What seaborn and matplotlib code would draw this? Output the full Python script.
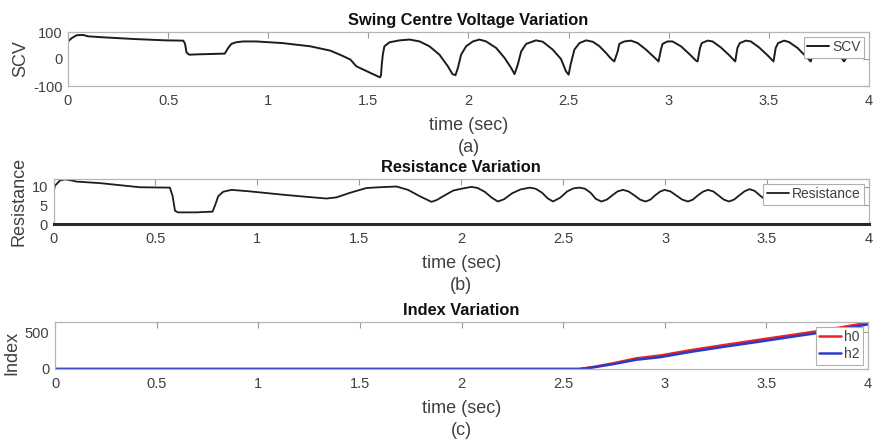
import matplotlib
matplotlib.use("Agg")
import matplotlib.pyplot as plt
import pandas as pd
import seaborn as sns

# ---------------- data ----------------
x_ticks = [0, 0.5, 1, 1.5, 2, 2.5, 3, 3.5, 4]
x_tick_labels = ["0", "0.5", "1", "1.5", "2", "2.5", "3", "3.5", "4"]

scv_t = [0, 0.018, 0.043, 0.076, 0.10, 0.16, 0.33, 0.49, 0.575, 0.584, 0.592, 0.605,
         0.64, 0.783, 0.80, 0.816, 0.84, 0.874, 0.94, 1.07, 1.21, 1.31, 1.37, 1.41,
         1.44, 1.50, 1.558,
         1.563, 1.567, 1.572, 1.58, 1.606, 1.656, 1.706, 1.756, 1.805, 1.855, 1.897, 1.92, 1.935,
         1.947, 1.963, 1.988, 2.022, 2.055, 2.088, 2.138, 2.18, 2.213, 2.23,
         2.246, 2.263, 2.288, 2.337, 2.371, 2.42, 2.462, 2.487, 2.50,
         2.51, 2.529, 2.554, 2.587, 2.62, 2.653, 2.687, 2.712, 2.728,
         2.745, 2.753, 2.778, 2.811, 2.845, 2.886, 2.928, 2.949,
         2.961, 2.969, 2.994, 3.019, 3.061, 3.102, 3.136, 3.144,
         3.156, 3.165, 3.194, 3.219, 3.26, 3.302, 3.332,
         3.343, 3.355, 3.385, 3.41, 3.451, 3.493, 3.523,
         3.534, 3.546, 3.576, 3.60, 3.643, 3.684, 3.709,
         3.721, 3.73, 3.755, 3.78, 3.82, 3.855, 3.875, 3.885, 3.893]
scv_v = [65, 77, 88, 89, 84, 81, 74, 69, 68, 58, 24, 16,
         17, 20, 41, 56, 62, 65, 65, 59, 47, 31, 12, -2,
         -27, -48, -68,
         -60, -20, 16, 47, 62, 69, 72, 65, 47, 16, -27, -56, -60,
         -33, 16, 47, 65, 72, 65, 41, 4, -33, -56,
         -21, 28, 56, 69, 64, 35, 0, -46, -58,
         -20, 35, 59, 69, 64, 48, 22, 1, -9,
         28, 56, 65, 68, 59, 35, 6, -9,
         35, 56, 65, 65, 47, 19, -6, -9,
         41, 59, 68, 65, 43, 14, -9,
         41, 59, 68, 65, 43, 14, -9,
         41, 59, 68, 63, 41, 10, -9,
         22, 55, 66, 64, 40, 12, -9, 2, 15]

res_t = [0, 0.007, 0.032, 0.056, 0.08, 0.114, 0.228, 0.424, 0.571, 0.584, 0.596, 0.612,
         0.70, 0.78, 0.792, 0.808, 0.832, 0.873, 0.963, 1.127, 1.25, 1.339, 1.388, 1.453,
         1.535, 1.60, 1.682, 1.739, 1.797, 1.854, 1.88, 1.911, 1.96, 2.0, 2.05,
         2.08, 2.115, 2.15, 2.18, 2.21, 2.25, 2.29, 2.336,
         2.365, 2.395, 2.425, 2.45, 2.485, 2.52, 2.55, 2.58,
         2.607, 2.635, 2.66, 2.687, 2.714, 2.74, 2.767, 2.793,
         2.82, 2.85, 2.877, 2.904, 2.928, 2.95, 2.974, 2.997,
         3.026, 3.055, 3.084, 3.112, 3.136, 3.16, 3.185, 3.21,
         3.236, 3.262, 3.288, 3.313, 3.338, 3.363, 3.389, 3.414,
         3.44, 3.465, 3.496]
res_v = [8.4, 10.2, 11.6, 11.9, 11.7, 11.3, 10.9, 9.8, 9.7, 7.5, 3.5, 3.1,
         3.1, 3.3, 4.9, 7.4, 8.6, 9.1, 8.7, 7.8, 7.2, 6.8, 7.1, 8.3,
         9.6, 9.8, 10.0, 9.1, 7.4, 5.9, 6.4, 7.4, 8.9, 9.4, 9.9,
         9.6, 8.6, 7.0, 6.0, 6.6, 8.2, 9.2, 9.7,
         9.4, 8.4, 6.8, 6.0, 7.0, 8.7, 9.5, 9.7,
         9.4, 8.3, 6.7, 6.0, 6.5, 7.6, 8.7, 9.1,
         8.7, 7.6, 6.5, 6.0, 6.5, 7.6, 8.6, 9.1,
         8.7, 7.6, 6.5, 6.0, 6.5, 7.6, 8.6, 9.1,
         8.7, 7.6, 6.5, 6.0, 6.5, 7.6, 8.7, 9.3,
         8.8, 7.6, 6.3]

idx_t = [0, 2.58, 2.65, 2.75, 2.86, 2.98, 3.14, 3.30, 3.47, 3.63, 3.80, 3.91, 4.0]
h0_v = [0, 0, 28, 80, 145, 185, 262, 330, 400, 465, 535, 588, 632]
h2_v = [0, 0, 23, 68, 126, 162, 239, 306, 374, 441, 509, 563, 608]

# ---------------- styling ----------------
sns.set_theme(style="white")
plt.rcParams["font.family"] = ["Liberation Sans", "DejaVu Sans"]
plt.rcParams["axes.unicode_minus"] = False

TXT = "#404040"
SPINE = "#b5b5b5"
TICK = "#9a9a9a"

W, H = 876, 441
fig = plt.figure(figsize=(W / 100, H / 100), dpi=100)
fig.patch.set_facecolor("white")


def box(l, r, t, b):
    return [l / W, 1 - b / H, (r - l) / W, (b - t) / H]


ax1 = fig.add_axes(box(68, 869, 32, 86))
ax2 = fig.add_axes(box(53.5, 869, 179, 224))
ax3 = fig.add_axes(box(55, 868, 322, 369))

df_scv = pd.DataFrame({"t": scv_t, "SCV": scv_v})
df_res = pd.DataFrame({"t": res_t, "Resistance": res_v})
df_idx = pd.DataFrame({
    "t": idx_t + idx_t,
    "Index": h0_v + h2_v,
    "series": ["h0"] * len(idx_t) + ["h2"] * len(idx_t),
})

sns.lineplot(data=df_scv, x="t", y="SCV", ax=ax1, color="#1c1c1c", lw=1.4,
             label="SCV", sort=False, estimator=None)
sns.lineplot(data=df_res, x="t", y="Resistance", ax=ax2, color="#1c1c1c", lw=1.3,
             label="Resistance", sort=False, estimator=None)
sns.lineplot(data=df_idx, x="t", y="Index", hue="series", hue_order=["h0", "h2"],
             palette={"h0": "#ec2226", "h2": "#2a3cc4"}, ax=ax3, lw=1.8,
             sort=False, estimator=None)


def style(ax, ylim, yticks, title, xlabel, ylabel, ylab_xy):
    ax.set_xlim(0, 4)
    ax.set_ylim(*ylim)
    ax.set_xticks(x_ticks)
    ax.set_xticklabels(x_tick_labels)
    ax.set_yticks(yticks)
    ax.set_yticklabels([str(v) for v in yticks])
    ax.tick_params(direction="in", length=4, width=0.8, color=TICK,
                   labelcolor=TXT, labelsize=10.5, top=True, right=True)
    ax.tick_params(axis="x", pad=5.5)
    ax.tick_params(axis="y", pad=4)
    for s in ax.spines.values():
        s.set_color(SPINE)
        s.set_linewidth(0.9)
        s.set_visible(True)
    ax.set_title(title, fontsize=11.8, fontweight="bold", color="#111111", pad=5)
    ax.set_xlabel(xlabel, fontsize=13, color=TXT, linespacing=1.38, labelpad=6.5)
    ax.set_ylabel(ylabel, fontsize=13, color=TXT)
    ax.yaxis.set_label_coords(*ylab_xy)
    ax.grid(False)


style(ax1, (-100, 100), [-100, 0, 100], "Swing Centre Voltage Variation",
      "time (sec)\n(a)", "SCV", (-0.049, 0.5))
style(ax2, (0, 12), [0, 5, 10], "Resistance Variation",
      "time (sec)\n(b)", "Resistance", (-0.032, 0.5))
style(ax3, (0, 640), [0, 500], "Index Variation",
      "time (sec)\n(c)", "Index", (-0.042, 0.35))

ax2.spines["bottom"].set_color("#2a2a2a")
ax2.spines["bottom"].set_linewidth(2.2)


def legend(ax, **kw):
    leg = ax.legend(loc="upper right", bbox_to_anchor=(1, 1), borderaxespad=0.35,
                    fontsize=10, frameon=True, fancybox=False, edgecolor="#b0b0b0",
                    framealpha=1, handlelength=1.6, handletextpad=0.2,
                    borderpad=0.25, labelspacing=0.2, title=None, **kw)
    leg.get_frame().set_linewidth(0.8)
    for t in leg.get_texts():
        t.set_color(TXT)
    return leg


legend(ax1)
legend(ax2)
legend(ax3)

fig.savefig("out.png", dpi=100, facecolor="white")
